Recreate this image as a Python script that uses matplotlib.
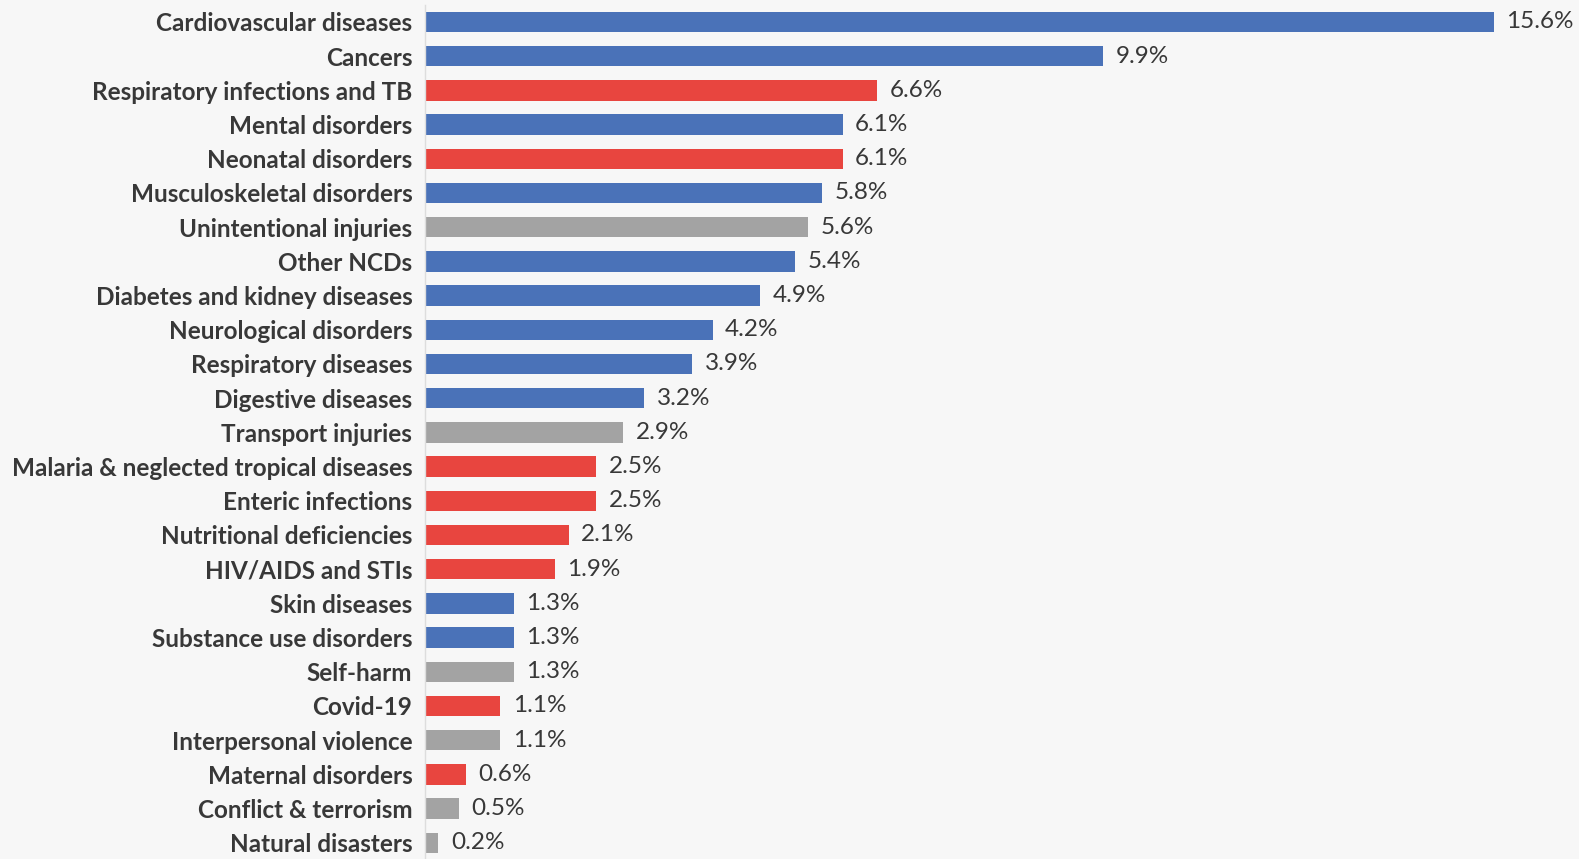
import matplotlib.pyplot as plt

# Share of total disease burden (%), top to bottom
causes = ["Cardiovascular diseases", "Cancers", "Respiratory infections and TB",
          "Mental disorders", "Neonatal disorders", "Musculoskeletal disorders",
          "Unintentional injuries", "Other NCDs", "Diabetes and kidney diseases",
          "Neurological disorders", "Respiratory diseases", "Digestive diseases",
          "Transport injuries", "Malaria & neglected tropical diseases",
          "Enteric infections", "Nutritional deficiencies", "HIV/AIDS and STIs",
          "Skin diseases", "Substance use disorders", "Self-harm", "Covid-19",
          "Interpersonal violence", "Maternal disorders", "Conflict & terrorism",
          "Natural disasters"]
shares = [15.6, 9.9, 6.6, 6.1, 6.1, 5.8, 5.6, 5.4, 4.9, 4.2, 3.9, 3.2, 2.9,
          2.5, 2.5, 2.1, 1.9, 1.3, 1.3, 1.3, 1.1, 1.1, 0.6, 0.5, 0.2]
# n = non-communicable, c = communicable/maternal/neonatal, i = injuries
groups = ["n", "n", "c", "n", "c", "n", "i", "n", "n", "n", "n", "n", "i",
          "c", "c", "c", "c", "n", "n", "i", "c", "i", "c", "i", "i"]

palette = {"n": "#4a72b8", "c": "#e8453f", "i": "#a3a3a3"}
bg = "#f7f7f7"
txt = "#383838"

plt.rcParams['font.family'] = ['Lato', 'DejaVu Sans']

fig = plt.figure(figsize=(15.79, 8.59), dpi=100, facecolor=bg)
ax = fig.add_axes([0.269, -0.001, 0.716, 0.9953], facecolor=bg)

y = list(range(len(causes)))
ax.barh(y, shares, height=0.6, color=[palette[g] for g in groups])

for yi, v in zip(y, shares):
    ax.annotate(f"{v}%", xy=(v, yi), xytext=(9, 0), textcoords="offset points",
                va="center", ha="left", fontsize=17.5, color=txt, annotation_clip=False)

ax.set_yticks(y)
ax.set_yticklabels(causes, fontsize=17.5, color=txt, fontweight="bold")
ax.tick_params(axis="y", length=0, pad=9)
ax.set_xticks([])
ax.set_ylim(len(causes) - 0.5, -0.5)
ax.set_xlim(0, 16.5)

for s in ["top", "right", "bottom"]:
    ax.spines[s].set_visible(False)
ax.spines["left"].set_color("#dddddd")
ax.spines["left"].set_linewidth(1)

fig.savefig("out.png", dpi=100, facecolor=bg)
